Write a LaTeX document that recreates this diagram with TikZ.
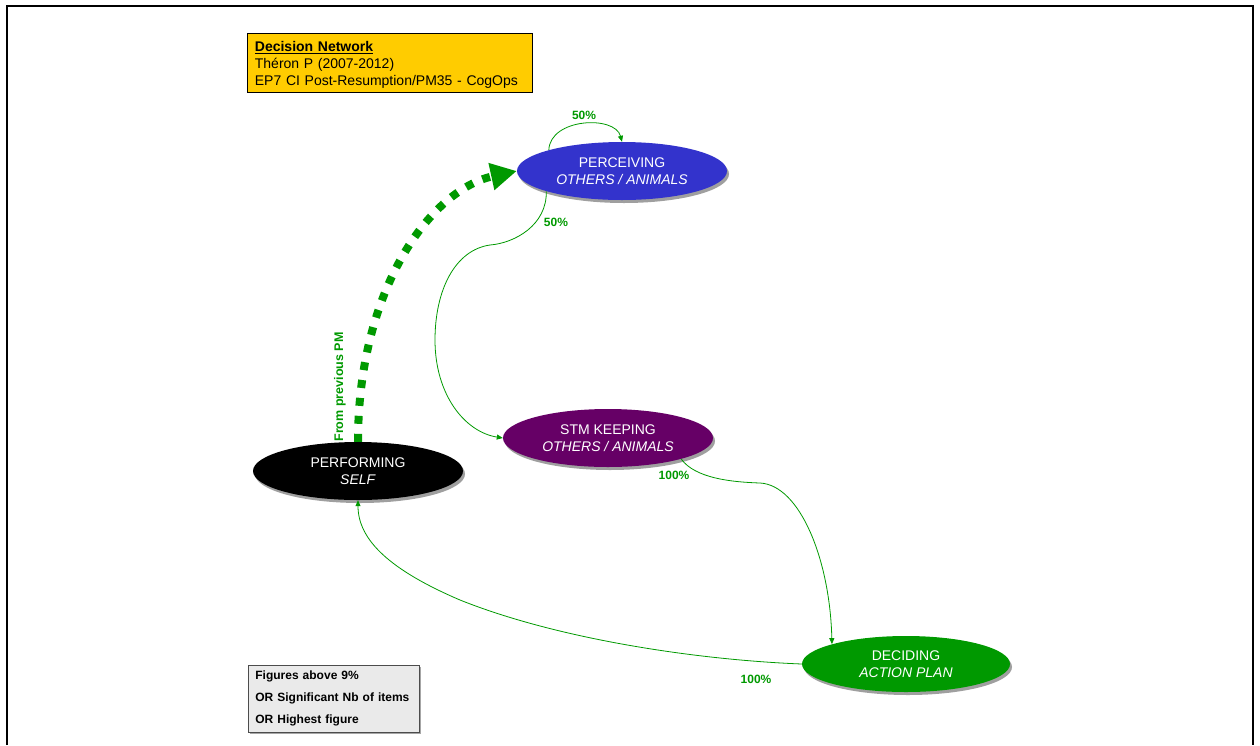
\documentclass[tikz,border=0pt]{standalone}
\usepackage{fontspec}
\setmainfont{Liberation Sans}
\usetikzlibrary{arrows.meta,shapes.geometric,shadows}
\definecolor{gold}{HTML}{FFCC00}
\definecolor{dgreen}{HTML}{009900}
\definecolor{pblue}{HTML}{3333CC}
\definecolor{purp}{HTML}{660066}
\definecolor{lgray}{HTML}{EAEAEA}
\begin{document}
\begin{tikzpicture}[x=1pt,y=-1pt,
  state/.style={ellipse, minimum width=210pt, minimum height=58pt, inner sep=0pt,
    text=white, align=center, font=\fontsize{14}{17}\selectfont,
    drop shadow={shadow xshift=2pt, shadow yshift=-3pt, fill=gray!75, opacity=1}},
  flow/.style={draw=dgreen, line width=0.8pt, -{Triangle[length=6pt,width=5pt]}},
  bigflow/.style={draw=dgreen, line width=8pt, dash pattern=on 8pt off 10pt,
    -{Triangle[length=26pt,width=26pt]}},
  pct/.style={text=dgreen, font=\fontsize{12}{14}\selectfont\bfseries, inner sep=0pt},
  titlebox/.style={draw=black, line width=0.8pt, fill=gold, anchor=north west,
    minimum width=285pt, minimum height=59pt, text width=270pt, inner sep=0pt,
    align=left, font=\fontsize{14}{17}\selectfont},
  legendbox/.style={draw=black!70, line width=0.8pt, fill=lgray, anchor=north west,
    minimum width=171pt, minimum height=67pt, text width=157pt, inner sep=0pt,
    align=left, font=\fontsize{12}{22}\selectfont\bfseries,
    drop shadow={shadow xshift=1.5pt, shadow yshift=-1.5pt, fill=gray!70, opacity=1}},
]
\useasboundingbox (0,0) rectangle (1260,745);
\draw[line width=2pt] (7,745) -- (7,6) -- (1253,6) -- (1253,745);

\node[titlebox] (title) at (247,33) {\rule{0pt}{15pt}\textbf{\underline{Decision Network}}\\Théron P (2007-2012)\\EP7 CI Post-Resumption/PM35 - CogOps};
\node[legendbox] (legend) at (248,665) {Figures above 9\%\\OR Significant Nb of items\\OR Highest figure};

\node[state, fill=pblue] (perc) at (622,171) {PERCEIVING\\\textit{OTHERS / ANIMALS}};
\node[state, fill=purp] (stm) at (608,438) {STM KEEPING\\\textit{OTHERS / ANIMALS}};
\node[state, fill=black] (perf) at (358,471) {PERFORMING\\\textit{SELF}};
\node[state, fill=dgreen, minimum width=208pt, minimum height=56pt] (dec) at (906,664) {DECIDING\\\textit{ACTION PLAN}};

\draw[bigflow] (perf.north) .. controls (358,290) and (430,190) .. (perc.west);
\node[pct, rotate=90, font=\fontsize{12.5}{14}\selectfont\bfseries] (prev) at (340,387) {From previous PM};

\draw[flow] (perc.164) .. controls (550,118) and (615,115) .. (perc.north);
\node[pct] (p1) at (584,115) {50\%};

\draw[flow] (perc.195) .. controls (547,225) and (515,243) .. (490,245)
  .. controls (455,250) and (435,290) .. (435,340)
  .. controls (435,395) and (465,432) .. (stm.west);
\node[pct] (p2) at (556,222) {50\%};

\draw[flow] (stm.344) .. controls (695,478) and (730,482) .. (760,483)
  .. controls (800,485) and (830,560) .. (dec.165);
\node[pct] (p3) at (674,475) {100\%};

\draw[flow] (dec.west) .. controls (700,660) and (560,640) .. (460,600)
  .. controls (390,570) and (358,540) .. (perf.south);
\node[pct] (p4) at (756,679) {100\%};
\end{tikzpicture}
\end{document}
